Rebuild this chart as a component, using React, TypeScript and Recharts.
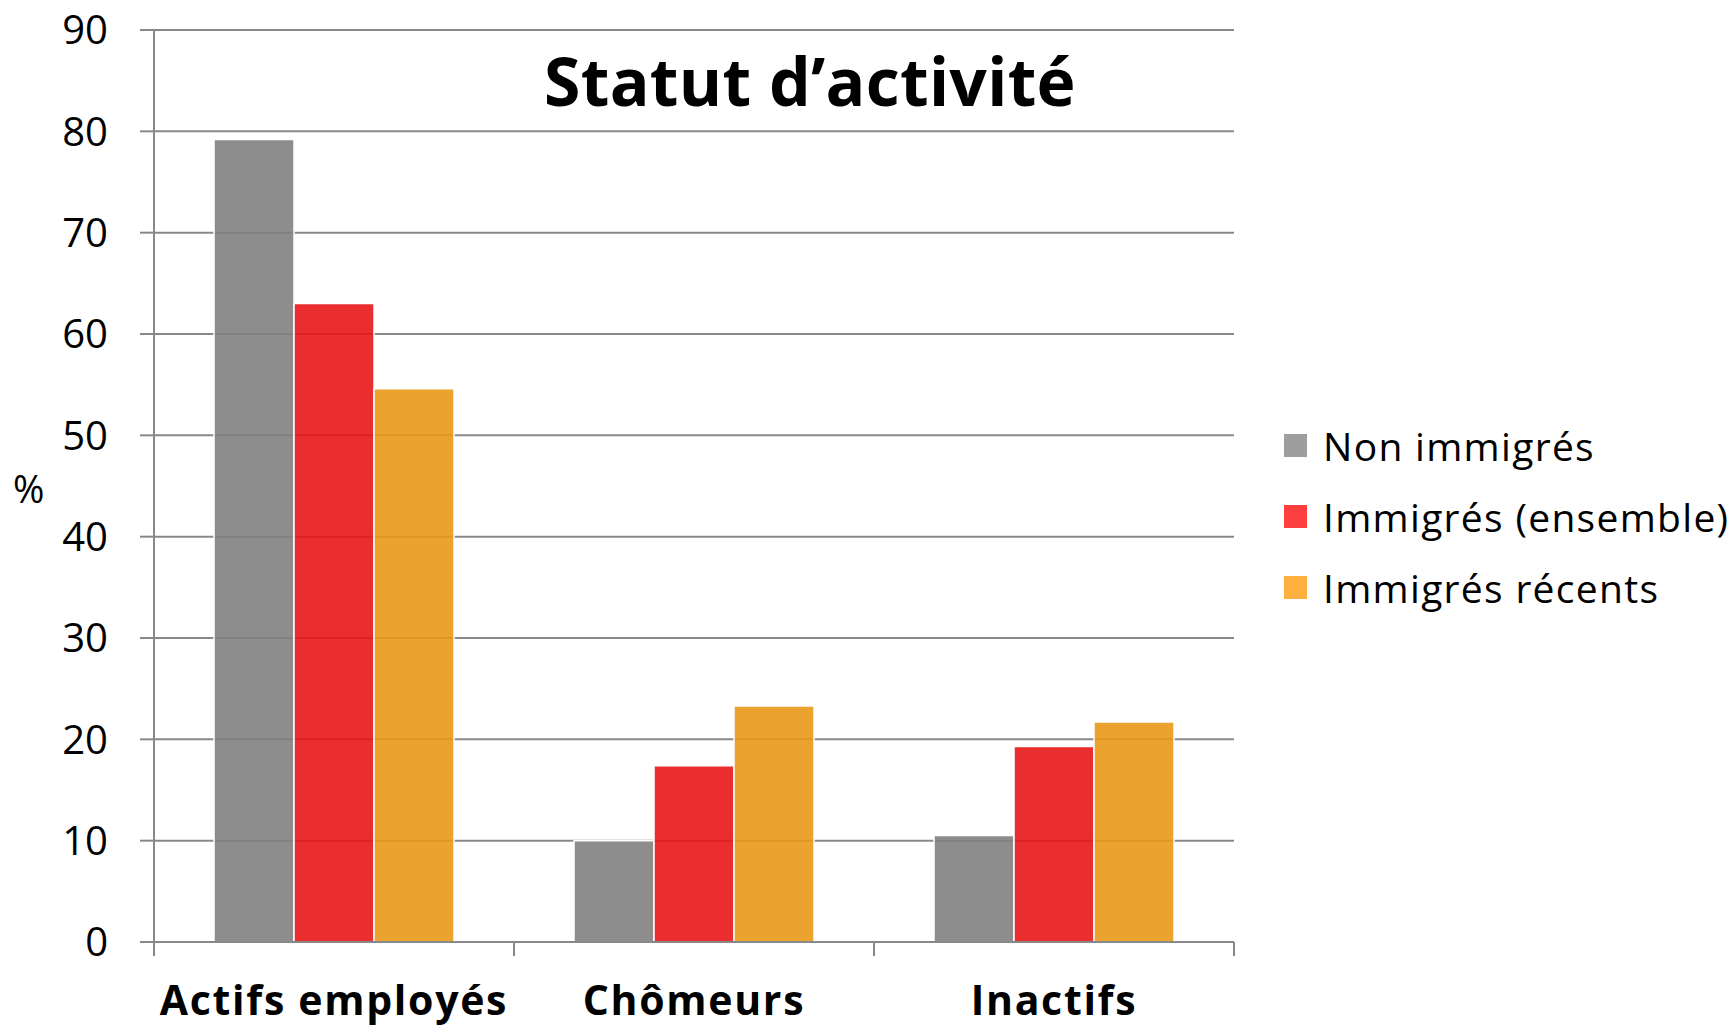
import { BarChart, Bar, XAxis, YAxis, CartesianGrid } from "recharts";

const categories = ["Actifs employés", "Chômeurs", "Inactifs"];
const nonImmigres = [79.2, 10.0, 10.5];
const immigresEnsemble = [63.0, 17.4, 19.3];
const immigresRecents = [54.6, 23.3, 21.7];
const yTicks = [0, 10, 20, 30, 40, 50, 60, 70, 80, 90];
const boundaryTicks = [0, 1, 2, 3];

const series = [
  { key: "non", name: "Non immigrés", fill: "#818181", legend: "#9e9e9e" },
  { key: "ens", name: "Immigrés (ensemble)", fill: "#e81618", legend: "#fd3f3f" },
  { key: "rec", name: "Immigrés récents", fill: "#e99818", legend: "#fdb03f" },
];

const data = categories.map((cat, i) => ({
  cat,
  idx: i + 0.5,
  non: nonImmigres[i],
  ens: immigresEnsemble[i],
  rec: immigresRecents[i],
}));

const FONT = "'Open Sans', Lato, sans-serif";
const GRID = "#888888";

export default function App() {
  return (
    <div
      style={{
        position: "absolute",
        left: 0,
        top: 0,
        width: 1734,
        height: 1027,
        background: "#fff",
        fontFamily: FONT,
      }}
    >
      <BarChart
        width={1734}
        height={1027}
        data={data}
        margin={{ top: 30, right: 500, bottom: 0, left: 0 }}
        barCategoryGap="16.67%"
        barGap={0}
        style={{ overflow: "visible" }}
      >
        <CartesianGrid
          vertical={false}
          stroke={GRID}
          strokeWidth={2}
          xAxisId="b1"
        />
        <XAxis
          xAxisId="b1"
          dataKey="cat"
          height={84}
          axisLine={false}
          tickLine={false}
          tickSize={0}
          tickMargin={43}
          interval={0}
          tick={{
            fill: "#000",
            fontSize: 41,
            fontWeight: 700,
            fontFamily: FONT,
            letterSpacing: 1.7,
          }}
        />
        {/* boundary ticks between categories */}
        <XAxis
          xAxisId="a0"
          dataKey="idx"
          type="number"
          domain={[0, 3]}
          ticks={boundaryTicks}
          tickFormatter={() => ""}
          tickSize={14}
          height={1}
          stroke={GRID}
          strokeWidth={2}
        />
        <YAxis
          width={154}
          domain={[0, 90]}
          ticks={yTicks}
          interval={0}
          tickSize={14}
          tickMargin={32}
          stroke={GRID}
          strokeWidth={2}
          tick={{ fill: "#000", fontSize: 40, fontFamily: FONT }}
          label={{
            value: "%",
            position: "insideLeft",
            offset: 13,
            dy: 4,
            fill: "#000",
            fontSize: 38,
            fontFamily: FONT,
          }}
        />
        {series.map((s) => (
          <Bar
            key={s.key}
            xAxisId="b1"
            dataKey={s.key}
            name={s.name}
            fill={s.fill}
            fillOpacity={0.9}
            stroke="#ffffff"
            strokeWidth={1.5}
            isAnimationActive={false}
          />
        ))}
      </BarChart>

      <div
        style={{
          position: "absolute",
          left: 410,
          width: 800,
          top: 47,
          textAlign: "center",
          fontSize: 66,
          fontWeight: 700,
          letterSpacing: 0.3,
          lineHeight: 1,
          color: "#000",
        }}
      >
        Statut d’activité
      </div>

      <div style={{ position: "absolute", left: 1284, top: 410 }}>
        {series.map((s) => (
          <div
            key={s.key}
            style={{ display: "flex", alignItems: "center", height: 71 }}
          >
            <div style={{ width: 23, height: 23, background: s.legend }} />
            <span
              style={{
                marginLeft: 16,
                fontSize: 39,
                letterSpacing: 1.3,
                color: "#000",
                whiteSpace: "nowrap",
              }}
            >
              {s.name}
            </span>
          </div>
        ))}
      </div>
    </div>
  );
}
